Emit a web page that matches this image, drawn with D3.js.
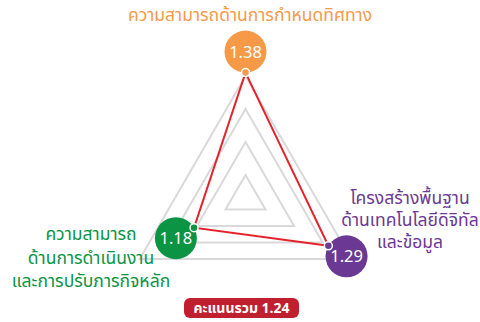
<!DOCTYPE html>
<html>
<head>
<meta charset="utf-8">
<script src="https://cdn.jsdelivr.net/npm/d3@7"></script>
<style>
  body { margin: 0; background: #fff; }
  svg { display: block; font-family: "Noto Sans Thai", "Noto Sans", "DejaVu Sans", sans-serif; }
</style>
</head>
<body>
<div id="chart"></div>
<script>
// ข้อมูล
const categories = [
    ["ความสามารถด้านการกำหนดทิศทาง"],
    ["โครงสร้างพื้นฐาน", "ด้านเทคโนโลยีดิจิทัล", "และข้อมูล"],
    ["ความสามารถ", "ด้านการดำเนินงาน", "และการปรับภารกิจหลัก"]
];
const scores = [1.38, 1.29, 1.18];
const gridLevels = [1.07, 1.17, 1.27, 1.37];
const totalLabel = "คะแนนรวม";
const totalScore = 1.24;

const colors = ["#f79a48", "#6b3894", "#0a9444"];
const width = 480, height = 322;
const cx = 245.5, cy = 198;

// ตำแหน่งของข้อความแต่ละแกน
const labelPos = [
    {x: 250, y: 21, dy: 22},
    {x: 410, y: 204, dy: 22},
    {x: 91, y: 240, dy: 23.5}
];

const svg = d3.select("#chart")
    .append("svg")
    .attr("width", width)
    .attr("height", height);

const r = d3.scaleLinear().domain([1.0, 1.4]).range([0, 132]);
const angle = d3.scaleLinear().domain([0, categories.length]).range([-Math.PI / 2, 1.5 * Math.PI]);

const pt = (i, rad) => [cx + rad * Math.cos(angle(i)), cy + rad * Math.sin(angle(i))];

// เส้นกริดสามเหลี่ยม
const line = d3.line().curve(d3.curveLinearClosed);
svg.append("g")
    .selectAll("path")
    .data(gridLevels)
    .join("path")
    .attr("d", lv => line(categories.map((c, i) => pt(i, r(lv)))))
    .attr("fill", "none")
    .attr("stroke", "#d9d9d9")
    .attr("stroke-width", 2);

// เส้นคะแนน
svg.append("path")
    .attr("d", line(scores.map((v, i) => pt(i, r(v)))))
    .attr("fill", "none")
    .attr("stroke", "#e5222b")
    .attr("stroke-width", 2);

// วงกลมค่าคะแนน
const badges = svg.append("g")
    .selectAll("g")
    .data(scores)
    .join("g");

badges.append("circle")
    .attr("cx", (v, i) => pt(i, r(v) + 21)[0])
    .attr("cy", (v, i) => pt(i, r(v) + 21)[1])
    .attr("r", 21)
    .attr("fill", (v, i) => colors[i]);

badges.append("text")
    .attr("x", (v, i) => pt(i, r(v) + 21)[0])
    .attr("y", (v, i) => pt(i, r(v) + 21)[1])
    .attr("dy", "0.36em")
    .attr("text-anchor", "middle")
    .attr("fill", "#fff")
    .attr("font-size", 16.5)
    .text(v => v.toFixed(2));

badges.append("circle")
    .attr("cx", (v, i) => pt(i, r(v))[0])
    .attr("cy", (v, i) => pt(i, r(v))[1])
    .attr("r", 4)
    .attr("fill", (v, i) => colors[i])
    .attr("stroke", "#fff")
    .attr("stroke-width", 1.5);

// ชื่อแกน
categories.forEach((lines, i) => {
    const t = svg.append("text")
        .attr("text-anchor", "middle")
        .attr("fill", colors[i])
        .attr("font-size", 17.5);
    lines.forEach((s, j) => {
        t.append("tspan")
            .attr("x", labelPos[i].x)
            .attr("y", labelPos[i].y + j * labelPos[i].dy)
            .text(s);
    });
});

// คะแนนรวม
svg.append("rect")
    .attr("x", 184).attr("y", 298)
    .attr("width", 115).attr("height", 20)
    .attr("rx", 6)
    .attr("fill", "#c01f2f");

svg.append("text")
    .attr("x", 241.5).attr("y", 313)
    .attr("text-anchor", "middle")
    .attr("fill", "#fff")
    .attr("font-size", 14)
    .attr("font-weight", "bold")
    .text(totalLabel + " " + totalScore.toFixed(2));
</script>
</body>
</html>
